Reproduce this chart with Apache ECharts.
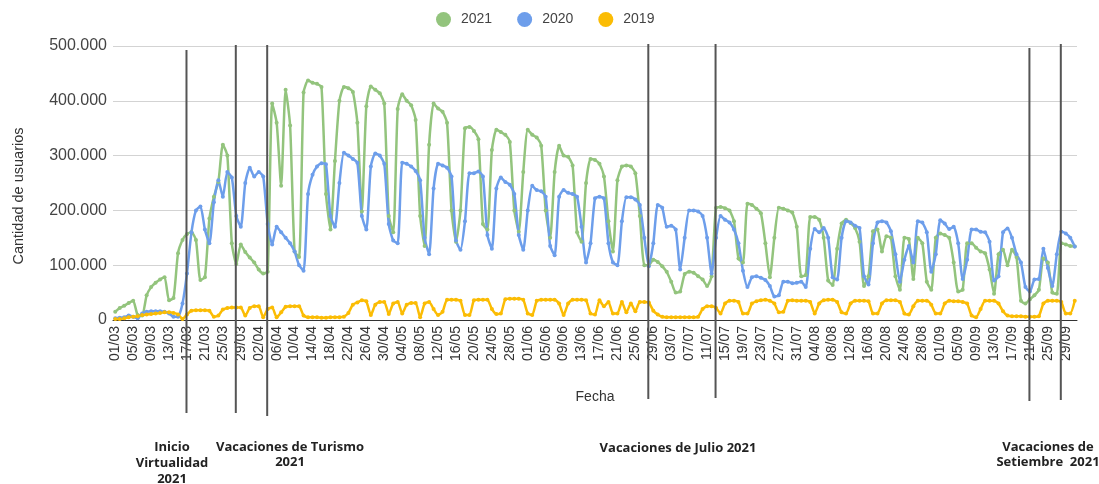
<!DOCTYPE html>
<html>
<head>
<meta charset="utf-8">
<script src="https://cdn.jsdelivr.net/npm/echarts@6/dist/echarts.min.js"></script>
<style>
  html, body { margin: 0; padding: 0; background: #fff; }
  #chart { width: 1099px; height: 484px; }
</style>
</head>
<body>
<div id="chart"></div>
<script>
// meses del eje x: [mes, días]
const meses = [['03', 31], ['04', 30], ['05', 31], ['06', 30], ['07', 31], ['08', 31], ['09', 30], ['10', 1]]
const fechas = []
meses.forEach(([m, n]) => {
  for (let d = 1; d <= n; d++) fechas.push(String(d).padStart(2, '0') + '/' + m)
})

// usuarios por día (miles)
const usuarios2021 = [
  15, 22, 26, 31, 35, 9, 8,
  45, 60, 68, 74, 78, 36, 40,
  122, 146, 157, 160, 146, 73, 78,
  185, 225, 252, 320, 300, 140, 102,
  138, 124, 114, 105, 92, 85, 88,
  395, 360, 245, 420, 355, 125, 115,
  415, 437, 433, 431, 425, 230, 165,
  290, 400, 425, 423, 416, 360, 198,
  390, 426, 420, 414, 395, 190, 160,
  385, 412, 400, 392, 365, 190, 135,
  320, 395, 386, 380, 360, 200, 143,
  200, 350, 352, 345, 330, 175, 165,
  310, 347, 343, 338, 325, 200, 161,
  270, 347, 338, 333, 318, 200, 150,
  270, 318, 300, 298, 282, 160, 143,
  250, 294, 292, 285, 262, 180, 125,
  255, 280, 282, 280, 268, 190, 100,
  100, 110, 106, 98, 88, 70, 50,
  52, 84, 88, 86, 80, 74, 62,
  80, 205, 206, 204, 200, 180, 112,
  105, 212, 210, 203, 195, 140, 78,
  150, 205, 203, 200, 196, 170, 80,
  82, 188, 188, 183, 150, 72, 64,
  130, 176, 183, 177, 168, 143, 62,
  80, 162, 165, 125, 153, 150, 80,
  55, 150, 148, 75, 150, 140, 70,
  55, 150, 158, 155, 150, 105, 52,
  55, 140, 140, 132, 125, 122, 92,
  48, 120, 128, 100, 128, 115, 35,
  30, 38, 45, 55, 112, 105, 50,
  48, 140, 138, 135, 134
]
const usuarios2020 = [
  3, 4, 5, 8, 6, 3, 12,
  15, 16, 16, 16, 15, 12, 6,
  6, 30, 85, 160, 200, 207, 165,
  140, 215, 255, 225, 270, 260, 190,
  170, 250, 278, 262, 270, 262, 175,
  138, 170, 160, 150, 140, 125, 100,
  90, 230, 265, 280, 286, 284, 190,
  170, 250, 305, 300, 294, 287, 190,
  165, 280, 304, 300, 285, 175, 145,
  140, 287, 285, 280, 272, 255, 150,
  120, 240, 285, 282, 278, 262, 145,
  128, 180, 268, 268, 271, 262, 155,
  130, 240, 260, 252, 247, 230, 155,
  128, 200, 245, 237, 235, 225, 135,
  118, 225, 237, 232, 230, 225, 170,
  105, 140, 222, 225, 222, 140, 105,
  100, 180, 224, 224, 220, 210, 150,
  98, 140, 210, 205, 170, 172, 165,
  92, 150, 200, 200, 198, 190, 150,
  85, 150, 190, 183, 178, 165, 140,
  90, 60, 78, 80, 77, 73, 62,
  43, 45, 70, 70, 67, 68, 70,
  60, 130, 166, 160, 168, 150, 78,
  74, 150, 180, 178, 172, 168, 80,
  65, 140, 178, 180, 178, 162, 120,
  70, 110, 135, 105, 180, 178, 160,
  88, 120, 182, 176, 166, 170, 140,
  75, 110, 165, 165, 161, 160, 143,
  72, 80, 160, 167, 150, 120, 105,
  60, 52, 74, 75, 130, 95, 62,
  120, 161, 158, 150, 134
]
const usuarios2019 = [
  2, 2, 3, 5, 6, 7, 9,
  10, 11, 12, 13, 14, 14, 13,
  10, 2, 10, 17, 18, 18, 18,
  17, 6, 8, 19, 22, 23, 23,
  23, 8, 22, 25, 25, 5, 20,
  23, 5, 14, 24, 25, 25, 25,
  8, 5, 5, 5, 4, 4, 5,
  5, 5, 6, 13, 28, 32, 36,
  34, 9, 28, 33, 33, 11, 30,
  33, 12, 28, 31, 31, 5, 30,
  33, 20, 9, 15, 37, 37, 37,
  35, 9, 9, 36, 37, 37, 37,
  20, 11, 12, 38, 39, 39, 39,
  37, 12, 9, 35, 37, 37, 37,
  37, 30, 9, 30, 37, 37, 37,
  36, 12, 10, 36, 25, 33, 12,
  12, 33, 14, 30, 16, 33, 33,
  32, 17, 10, 6, 5, 5, 5,
  5, 5, 5, 5, 6, 20, 25,
  25, 22, 12, 30, 35, 35, 33,
  12, 12, 30, 34, 36, 37, 35,
  30, 14, 15, 35, 36, 35, 35,
  35, 33, 12, 30, 36, 37, 37,
  33, 14, 12, 30, 35, 35, 35,
  34, 12, 12, 30, 36, 36, 36,
  33, 12, 10, 25, 35, 35, 35,
  28, 12, 12, 30, 35, 34, 34,
  33, 30, 8, 5, 20, 35, 35,
  35, 30, 16, 8, 7, 7, 7,
  6, 6, 6, 7, 30, 35, 35,
  35, 33, 12, 12, 35
]

const yTicks = [0, 100, 200, 300, 400, 500]

// fechas marcadas con línea vertical
const marcas = ['17/03', '28/03', '04/04', '28/06', '13/07', '21/09', '28/09']
const notas = [
  'Inicio\nVirtualidad\n2021',
  'Vacaciones de Turismo\n2021',
  'Vacaciones de Julio 2021',
  'Vacaciones de\nSetiembre  2021'
]

const fuente = 'Liberation Sans, Arial, sans-serif'
const colores = ['#93c47d', '#6d9eeb', '#fbbc04']

const serie = (name, data, color) => ({
  name,
  type: 'line',
  data,
  smooth: 0.2,
  symbol: 'circle',
  symbolSize: 4,
  showAllSymbol: true,
  lineStyle: { width: 2.5, color },
  itemStyle: { color },
  emphasis: { disabled: true },
})

const myChart = echarts.init(document.getElementById('chart'), null, { renderer: 'canvas' })

const option = {
  animation: false,
  backgroundColor: '#fff',
  textStyle: { fontFamily: fuente },
  legend: {
    top: 7,
    left: 431,
    icon: 'circle',
    itemWidth: 15,
    itemHeight: 15,
    itemGap: 25,
    textStyle: { color: '#444', fontSize: 14, fontFamily: fuente, padding: [0, 0, 0, 5] },
    data: ['2021', '2020', '2019'],
  },
  grid: { left: 113, right: 22, top: 46, bottom: 164, containLabel: false },
  xAxis: {
    type: 'category',
    data: fechas,
    boundaryGap: true,
    name: 'Fecha',
    nameLocation: 'middle',
    nameGap: 70,
    nameTextStyle: { color: '#333', fontSize: 14, fontFamily: fuente },
    axisLine: { lineStyle: { color: '#333', width: 1 } },
    axisTick: { show: false },
    axisLabel: { interval: 3, rotate: 90, color: '#333', fontSize: 14, margin: 6, fontFamily: fuente },
    splitLine: { show: false },
  },
  yAxis: {
    type: 'value',
    min: yTicks[0],
    max: yTicks[yTicks.length - 1],
    interval: yTicks[1] - yTicks[0],
    axisLine: { show: false },
    axisTick: { show: false },
    axisLabel: {
      color: '#444',
      fontSize: 16,
      margin: 6,
      fontFamily: fuente,
      formatter: (v) => (v === 0 ? '0' : v + '.000'),
    },
    splitLine: { lineStyle: { color: '#d3d3d3', width: 1 } },
  },
  series: [
    serie('2021', usuarios2021, colores[0]),
    serie('2020', usuarios2020, colores[1]),
    serie('2019', usuarios2019, colores[2]),
  ],
}
myChart.setOption(option)

// líneas verticales y textos debajo del gráfico
const topes = [50, 45, 45, 44, 44, 48, 44]
const bases = [413, 413, 416, 399, 398, 401, 400]
const lineas = marcas.map((f, i) => {
  const x = myChart.convertToPixel({ xAxisIndex: 0 }, f) - 0.5
  return {
    type: 'line',
    z: 100,
    shape: { x1: x, y1: topes[i], x2: x, y2: bases[i] },
    style: { stroke: '#555', lineWidth: 2 },
  }
})
const notaStyle = { fill: '#222', font: 'bold 13px "Open Sans", sans-serif', lineHeight: 16 }
const textos = [
  { type: 'text', x: 172, y: 439, style: { ...notaStyle, text: notas[0], align: 'center', verticalAlign: 'top' } },
  { type: 'text', x: 290, y: 440, style: { ...notaStyle, text: notas[1], align: 'center', verticalAlign: 'top', lineHeight: 15 } },
  { type: 'text', x: 678, y: 440, style: { ...notaStyle, text: notas[2], align: 'center', verticalAlign: 'top' } },
  { type: 'text', x: 1048, y: 440, style: { ...notaStyle, text: notas[3], align: 'center', verticalAlign: 'top', lineHeight: 15 } },
  {
    type: 'text', x: 19, y: 196, rotation: Math.PI / 2,
    style: { text: 'Cantidad de usuarios', fill: '#333', font: '14.5px ' + fuente, align: 'center', verticalAlign: 'middle' },
  },
]
myChart.setOption({ graphic: [...lineas, ...textos] })
</script>
</body>
</html>
